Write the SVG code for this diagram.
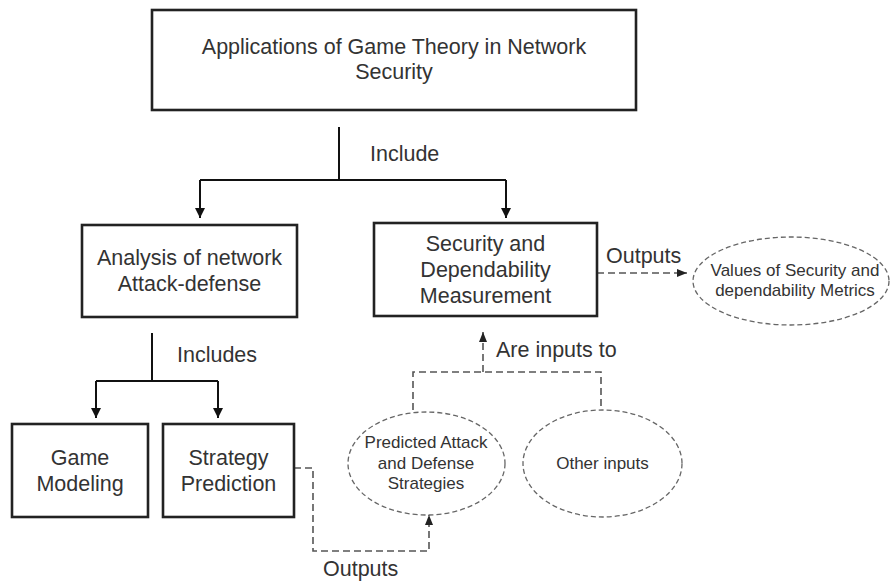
<svg xmlns="http://www.w3.org/2000/svg" width="891" height="582" viewBox="0 0 891 582">
  <style>
    .box { fill: #fff; stroke: #222; stroke-width: 2.6; }
    .ell { fill: #fff; stroke: #666; stroke-width: 1.3; stroke-dasharray: 5 3; }
    .t { font-family: "Liberation Sans", Arial, sans-serif; font-size: 21.5px; fill: #333; }
    .ts { font-family: "Liberation Sans", Arial, sans-serif; font-size: 17px; fill: #333; }
    .mid { text-anchor: middle; }
    .solid { fill: none; stroke: #111; stroke-width: 2; }
    .dash { fill: none; stroke: #555; stroke-width: 1.6; stroke-dasharray: 7 4; }
  </style>
  <defs>
    <marker id="arr" markerUnits="userSpaceOnUse" markerWidth="11" markerHeight="11" refX="10" refY="5.5" orient="auto">
      <path d="M0,0.5 L10,5.5 L0,10.5 z" fill="#111"/>
    </marker>
    <marker id="arrd" markerUnits="userSpaceOnUse" markerWidth="10" markerHeight="8" refX="10" refY="4" orient="auto">
      <path d="M0,0 L10,4 L0,8 z" fill="#222"/>
    </marker>
  </defs>
  <rect width="891" height="582" fill="#fff"/>

  <g id="connectors">
    <path class="solid" d="M339,127 V180"/>
    <path class="solid" d="M200,180 H506"/>
    <path class="solid" d="M200,180 V218" marker-end="url(#arr)"/>
    <path class="solid" d="M506,180 V218" marker-end="url(#arr)"/>
    <path class="solid" d="M152,333 V381"/>
    <path class="solid" d="M96,381 H218"/>
    <path class="solid" d="M96,381 V418" marker-end="url(#arr)"/>
    <path class="solid" d="M218,381 V418" marker-end="url(#arr)"/>
    <path class="dash" d="M597,273 H687" marker-end="url(#arrd)"/>
    <path class="dash" d="M413,410 V372 H601 V410"/>
    <path class="dash" d="M483,372 V332" marker-end="url(#arrd)"/>
    <path class="dash" d="M294,468 H313 V551 H429 V515" marker-end="url(#arrd)"/>
    <text class="t" x="370" y="161">Include</text>
    <text class="t" x="177" y="361.5">Includes</text>
    <text class="t" x="606" y="262.5">Outputs</text>
    <text class="t" x="496" y="356.5">Are inputs to</text>
    <text class="t" x="323" y="576">Outputs</text>
  </g>

  <g id="applications">
    <rect class="box" x="152" y="10" width="484" height="100"/>
    <text class="t mid" x="394" y="54">Applications of Game Theory in Network</text>
    <text class="t mid" x="394" y="79">Security</text>
  </g>

  <g id="analysis">
    <rect class="box" x="82" y="225" width="215" height="92"/>
    <text class="t mid" x="189.5" y="264.5">Analysis of network</text>
    <text class="t mid" x="189.5" y="290.5">Attack-defense</text>
  </g>

  <g id="measurement">
    <rect class="box" x="374" y="223" width="223" height="93"/>
    <text class="t mid" x="485.5" y="250.5">Security and</text>
    <text class="t mid" x="485.5" y="276.5">Dependability</text>
    <text class="t mid" x="485.5" y="302.5">Measurement</text>
  </g>

  <g id="metrics">
    <ellipse class="ell" cx="791" cy="281" rx="98" ry="44"/>
    <text class="ts mid" x="795" y="276">Values of Security and</text>
    <text class="ts mid" x="795" y="296">dependability Metrics</text>
  </g>

  <g id="game-modeling">
    <rect class="box" x="12" y="424" width="136" height="93"/>
    <text class="t mid" x="80" y="464.5">Game</text>
    <text class="t mid" x="80" y="490.5">Modeling</text>
  </g>

  <g id="strategy-prediction">
    <rect class="box" x="163" y="424" width="131" height="93"/>
    <text class="t mid" x="228.5" y="464.5">Strategy</text>
    <text class="t mid" x="228.5" y="490.5">Prediction</text>
  </g>

  <g id="predicted">
    <ellipse class="ell" cx="426.5" cy="463.5" rx="78.5" ry="51.5"/>
    <text class="ts mid" x="426" y="448">Predicted Attack</text>
    <text class="ts mid" x="426" y="468.5">and Defense</text>
    <text class="ts mid" x="426" y="489">Strategies</text>
  </g>

  <g id="other-inputs">
    <ellipse class="ell" cx="602.5" cy="463.5" rx="79.5" ry="53.5"/>
    <text class="ts mid" x="602.5" y="469">Other inputs</text>
  </g>
</svg>
